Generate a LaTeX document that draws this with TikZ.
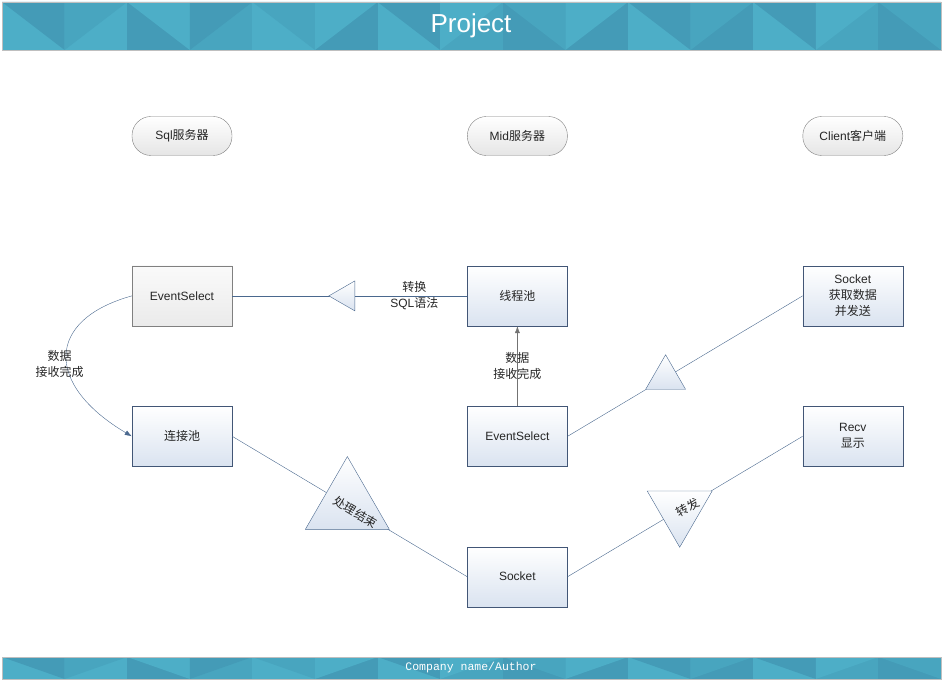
\documentclass[tikz,border=0pt]{standalone}
\usepackage{fontspec}
\setmainfont{Liberation Sans}
\newfontfamily\cjk{Noto Sans CJK SC}
\newfontfamily\footfont{Liberation Mono}
\usetikzlibrary{positioning, shapes.geometric, arrows.meta}
\definecolor{bandA}{RGB}{77,174,199}
\definecolor{bandB}{RGB}{68,155,183}
\definecolor{bandC}{RGB}{72,165,191}
\definecolor{linkblue}{RGB}{74,104,142}
\definecolor{boxedge}{RGB}{66,86,118}
\definecolor{boxfill}{RGB}{218,227,240}
% band of triangles, #1 = bottom, #2 = top
\newcommand{\drawband}[2]{%
	\foreach \i/\cu/\cl in {0/bandB/bandA, 1/bandC/bandA, 2/bandA/bandB, 3/bandB/bandC,
		4/bandC/bandA, 5/bandA/bandB, 6/bandB/bandA, 7/bandA/bandC, 8/bandC/bandB,
		9/bandA/bandB, 10/bandB/bandA, 11/bandC/bandB, 12/bandB/bandA, 13/bandA/bandC,
		14/bandC/bandB} {
		\pgfmathsetmacro{\xa}{2+\i*62.6}
		\pgfmathsetmacro{\xb}{\xa+62.6}
		\pgfmathsetmacro{\xv}{\xa+62.6*(1-mod(\i,2))}
		\fill[\cl] (\xa,#1) rectangle (\xb,#2);
		\fill[\cu] (\xa,#2) -- (\xb,#2) -- (\xv,#1) -- cycle;
	}
	\draw[black!25] (2,#1) rectangle (941,#2);
}
\tikzset{
	every node/.append style={
		font=\fontsize{12}{16}\selectfont,
		text=black!85,
		align=center,
	},
	server/.style={
		draw=black!50,
		rounded corners=19pt,
		minimum width=100pt,
		minimum height=39pt,
		top color=white,
		bottom color=black!10,
	},
	graybox/.style={
		draw=black!50,
		minimum width=100pt,
		minimum height=60pt,
		top color=black!2,
		bottom color=black!8,
	},
	bluebox/.style={
		draw=boxedge,
		minimum width=100pt,
		minimum height=60pt,
		top color=white,
		bottom color=boxfill,
	},
	link/.style={
		draw=linkblue,
	},
	tri/.style={
		regular polygon,
		regular polygon sides=3,
		draw=linkblue,
		top color=white,
		bottom color=boxfill,
		inner sep=0pt,
		minimum size=34.6pt,
	},
	trilabel/.style={
		inner sep=0pt,
	},
}

\begin{document}
\begin{tikzpicture}[x=1pt, y=1pt]
\useasboundingbox (0,0) rectangle (943,681);

% header and footer
\drawband{631}{679}
\drawband{2}{24}
\node[font=\fontsize{26}{30}\selectfont, text=white] (title) at (471,655) {Project};
\node[font=\footfont\fontsize{11.5}{13}\selectfont, text=white] (author) at (471,13) {Company name/Author};

% servers
\node[server] (sqlsrv) at (182,545) {Sql{\cjk 服务器}};
\node[server, right=235pt of sqlsrv] (midsrv) {Mid{\cjk 服务器}};
\node[server, right=235pt of midsrv] (clisrv) {Client{\cjk 客户端}};

% boxes
\node[graybox, below=110pt of sqlsrv] (sqlsel) {EventSelect};
\node[bluebox, below=110pt of midsrv] (pool) {\cjk 线程池};
\node[bluebox, below=110pt of clisrv] (clisock) {Socket\\{\cjk 获取数据}\\{\cjk 并发送}};
\node[bluebox, below=80pt of sqlsel] (connpool) {\cjk 连接池};
\node[bluebox, below=80pt of pool] (midsel) {EventSelect};
\node[bluebox, below=80pt of clisock] (recv) {Recv\\{\cjk 显示}};
\node[bluebox, below=80pt of midsel] (midsock) {Socket};

% connectors
\draw[link] (sqlsel.east) -- node[tri, shape border rotate=90, pos=0.485] (sqltri) {}
	node[pos=0.775] (sqllabel) {{\cjk 转换}\\SQL{\cjk 语法}} (pool.west);
\draw[link, -{Latex[length=7pt,width=5pt]}] (sqlsel.west) .. controls (45,361) and (45,296) .. (connpool.west)
	node[pos=0.5, xshift=-7pt, yshift=-8pt] (recvlabel) {{\cjk 数据}\\{\cjk 接收完成}};
\draw[draw=black!55, -{Latex[length=7pt,width=5pt]}] (midsel.north) -- node (midlabel) {{\cjk 数据}\\{\cjk 接收完成}} (pool.south);
\draw[link] (connpool.east) -- node[tri, minimum size=97pt, pos=0.49] (endtri) {} (midsock.west);
\draw[link] (midsock.east) -- node[tri, minimum size=75pt, shape border rotate=180, pos=0.477] (fwdtri) {} (recv.west);
\draw[link] (midsel.east) -- node[tri, minimum size=46pt, pos=0.417] (sendtri) {} (clisock.west);

\node[trilabel, rotate=-30.8] (endlabel) at ([shift={(8,-7)}]endtri.center) {\cjk 处理结束};
\node[trilabel, rotate=30.8] (fwdlabel) at ([shift={(8,2)}]fwdtri.center) {\cjk 转发};
\end{tikzpicture}
\end{document}
